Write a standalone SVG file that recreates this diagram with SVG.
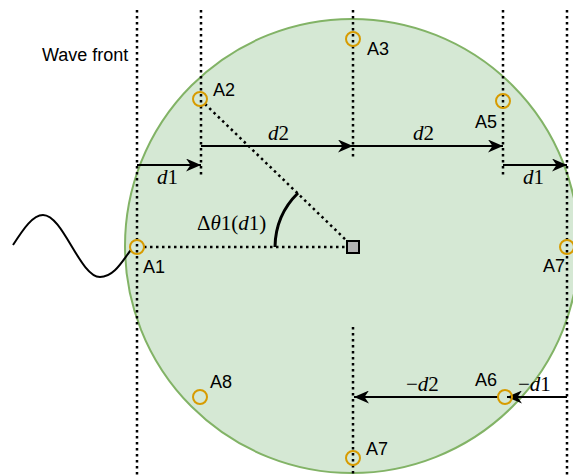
<svg xmlns="http://www.w3.org/2000/svg" width="573" height="476" viewBox="0 0 573 476">
<style>
.dot{stroke:#000;stroke-width:2.5;stroke-dasharray:2.5 3.5;fill:none}
.arr{stroke:#000;stroke-width:2;fill:none;marker-end:url(#ah)}
.ant{fill:none;stroke:#d79b00;stroke-width:2}
.lbl{font-family:"Liberation Sans",Arial,sans-serif;font-size:18px;fill:#000}
.m{font-family:"Liberation Serif","Times New Roman",serif;font-size:21px;fill:#000}
.i{font-style:italic}
</style>
<defs>
<marker id="ah" markerUnits="userSpaceOnUse" markerWidth="17" markerHeight="13" refX="15" refY="6.5" orient="auto" viewBox="0 0 17 13">
<path d="M0,0 L15,6.5 L0,13 L4.5,6.5 Z" fill="#000"/>
</marker>
</defs>
<g id="array">
<circle cx="352" cy="246" r="227" fill="#d5e8d4" stroke="#82b366" stroke-width="2"/>
</g>
<g id="connectors">
<line class="dot" x1="137" y1="10" x2="137" y2="476"/>
<line class="dot" x1="201" y1="10" x2="201" y2="177"/>
<line class="dot" x1="353" y1="10" x2="353" y2="157"/>
<line class="dot" x1="353" y1="327" x2="353" y2="476"/>
<line class="dot" x1="503" y1="10" x2="503" y2="177"/>
<line class="dot" x1="567" y1="10" x2="567" y2="476"/>
<line class="dot" x1="205" y1="104" x2="347" y2="241"/>
<line class="dot" x1="144" y1="247" x2="346" y2="247"/>
<path d="M275,247 A77,77 0 0 1 298,193" fill="none" stroke="#000" stroke-width="3"/>
<path d="M13,245 C24,228 33,215 43,215 C63,215 80,277 100,277 C115,277 124,258 131,250" fill="none" stroke="#000" stroke-width="2"/>
<line class="arr" x1="137" y1="165" x2="201" y2="165"/>
<line class="arr" x1="201" y1="146" x2="353" y2="146"/>
<line class="arr" x1="353" y1="146" x2="503" y2="146"/>
<line class="arr" x1="503" y1="165" x2="567" y2="165"/>
<line class="arr" x1="567" y1="397" x2="507" y2="397"/>
<line class="arr" x1="498" y1="397" x2="354" y2="397"/>
</g>
<g id="center"><rect x="347" y="241" width="12" height="12" fill="#b3b3b3" stroke="#000" stroke-width="2"/></g>
<g id="A1"><circle class="ant" cx="137" cy="247" r="7"/><text class="lbl" x="143" y="273">A1</text></g>
<g id="A2"><circle class="ant" cx="200" cy="99" r="7"/><text class="lbl" x="213" y="96">A2</text></g>
<g id="A3"><circle class="ant" cx="353" cy="39" r="7"/><text class="lbl" x="367" y="55">A3</text></g>
<g id="A5"><circle class="ant" cx="503" cy="101" r="7"/><text class="lbl" x="475" y="128">A5</text></g>
<g id="A7r"><circle class="ant" cx="567" cy="247" r="7"/><text class="lbl" x="543" y="272">A7</text></g>
<g id="A8"><circle class="ant" cx="200" cy="397" r="7"/><text class="lbl" x="210" y="388">A8</text></g>
<g id="A6"><circle class="ant" cx="505" cy="397" r="7"/><text class="lbl" x="475" y="386">A6</text></g>
<g id="A7b"><circle class="ant" cx="353" cy="458" r="7"/><text class="lbl" x="366" y="455">A7</text></g>
<g id="labels">
<text class="lbl" x="42" y="61">Wave front</text>
<text class="m" x="157" y="184"><tspan class="i">d</tspan>1</text>
<text class="m" x="268" y="140"><tspan class="i">d</tspan>2</text>
<text class="m" x="413" y="140"><tspan class="i">d</tspan>2</text>
<text class="m" x="523" y="184"><tspan class="i">d</tspan>1</text>
<text class="m" x="406" y="391">−<tspan class="i">d</tspan>2</text>
<text class="m" x="518" y="391">−<tspan class="i">d</tspan>1</text>
<text class="m" x="197" y="230">Δ<tspan class="i">θ</tspan>1(<tspan class="i">d</tspan>1)</text>
</g>
</svg>
